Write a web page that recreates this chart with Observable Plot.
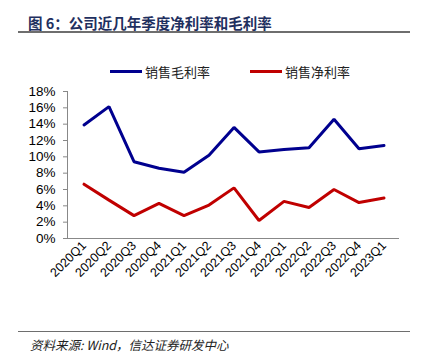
<!DOCTYPE html>
<html><head><meta charset="utf-8">
<script src="https://cdn.jsdelivr.net/npm/d3@7"></script>
<script src="https://cdn.jsdelivr.net/npm/@observablehq/plot@0.6"></script>
<style>
body{margin:0;background:#fff;font-family:"Liberation Sans","Noto Sans CJK SC",sans-serif;}
#wrap{position:relative;width:428px;height:359px;overflow:hidden;}
#title{position:absolute;left:28px;top:12px;font-size:14.5px;font-weight:bold;color:#1f3060;font-family:"Noto Sans CJK SC",sans-serif;white-space:nowrap;}
.hr{position:absolute;left:18px;width:392px;height:0;border-top:2px solid #6e6e6e;}
#legend{position:absolute;top:62px;left:110px;font-size:13px;color:#222;font-family:"Noto Sans CJK SC",sans-serif;display:flex;align-items:center;}
.sw{display:inline-block;width:32px;height:3px;margin-right:3px;}
#chart{position:absolute;left:0;top:85px;}
#src{position:absolute;left:30px;top:335px;font-size:12.5px;font-style:italic;color:#222;font-family:"Noto Sans CJK SC",sans-serif;white-space:nowrap;}
</style></head>
<body><div id="wrap">
<div id="title">图 6：公司近几年季度净利率和毛利率</div>
<div class="hr" style="top:31px"></div>
<div id="legend"></div>
<div id="chart"></div>
<div class="hr" style="top:331px;border-top-width:1.5px"></div>
<div id="src">资料来源: Wind，信达证券研发中心</div>
</div>
<script>
const quarters = ["2020Q1","2020Q2","2020Q3","2020Q4","2021Q1","2021Q2","2021Q3","2021Q4","2022Q1","2022Q2","2022Q3","2022Q4","2023Q1"];
const grossMargin = [13.9,16.15,9.4,8.6,8.1,10.2,13.6,10.6,10.9,11.1,14.6,11.0,11.4];
const netMargin = [6.65,4.7,2.8,4.3,2.8,4.1,6.2,2.2,4.55,3.8,6.0,4.4,4.95];
const seriesNames = ["销售毛利率","销售净利率"];
const seriesColors = ["#00008f","#c00000"];
const yTicks = [0,2,4,6,8,10,12,14,16,18];

const data = [];
quarters.forEach((q,i)=>{
  data.push({q, v: grossMargin[i], s: seriesNames[0]});
  data.push({q, v: netMargin[i], s: seriesNames[1]});
});

const leg = document.getElementById("legend");
seriesNames.forEach((n,i)=>{
  const item = document.createElement("span");
  item.style.display="inline-flex";item.style.alignItems="center";
  item.style.marginRight = i===0 ? "40px" : "0";
  item.innerHTML = `<span class="sw" style="background:${seriesColors[i]}"></span>${n}`;
  leg.appendChild(item);
});

const chart = Plot.plot({
  width: 428,
  height: 215,
  marginTop: 6,
  marginBottom: 62,
  marginLeft: 67,
  marginRight: 29,
  style: {fontFamily: "Liberation Sans, Arial, sans-serif", fontSize: "13px", color: "#000", background: "#fff"},
  x: {type: "band", domain: quarters, padding: 0},
  y: {domain: [0, 18]},
  color: {domain: seriesNames, range: seriesColors},
  marks: [
    Plot.axisY({ticks: yTicks, tickFormat: d => d + "%", tickSize: 4, tickPadding: 8, stroke: "#888", label: null, fontSize: 13.5}),
    Plot.axisX({tickRotate: -45, tickSize: 0, tickPadding: 5, label: null, fontSize: 12.5}),
    Plot.ruleY([0], {stroke: "#888", strokeWidth: 1}),
    Plot.frame({anchor: "left", stroke: "#888"}),
    Plot.line(data, {x: "q", y: "v", z: "s", stroke: "s", strokeWidth: 3, strokeLinejoin: "miter"})
  ]
});
document.getElementById("chart").appendChild(chart);
</script>
</body></html>
